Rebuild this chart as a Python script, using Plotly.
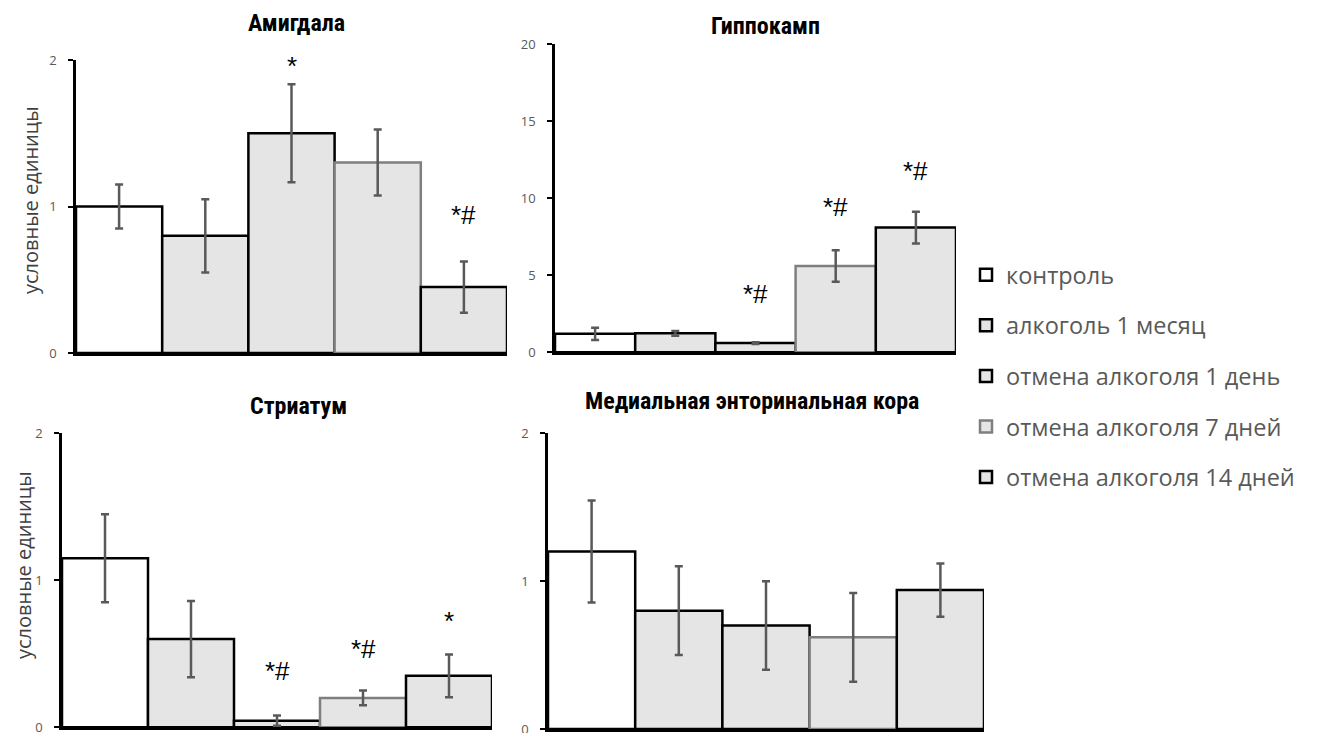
import plotly.graph_objects as go

# The page body adds an 8px offset; the figure is sized so that figure + offset = window.
OFF = 8
W, H = 1317 - OFF, 733 - OFF


def px(x):
    return (x - OFF) / W


def py(y):
    return 1 - (y - OFF) / H


series = ["контроль", "алкоголь 1 месяц", "отмена алкоголя 1 день",
          "отмена алкоголя 7 дней", "отмена алкоголя 14 дней"]
fills = ["#ffffff", "#e5e5e5", "#e5e5e5", "#e5e5e5", "#e5e5e5"]
outlines = ["#000000", "#000000", "#000000", "#7f7f7f", "#000000"]

titles = ["Амигдала", "Гиппокамп", "Стриатум", "Медиальная энторинальная кора"]

amyg_vals = [1.00, 0.80, 1.50, 1.30, 0.45]
amyg_err = [0.15, 0.25, 0.335, 0.225, 0.175]
amyg_marks = ["", "", "*", "", "*#"]
amyg_mark_y = [0, 0, 1.96, 0, 0.94]

hipp_vals = [1.20, 1.23, 0.60, 5.60, 8.10]
hipp_err = [0.40, 0.15, 0.06, 1.02, 1.03]
hipp_marks = ["", "", "*#", "*#", "*#"]
hipp_mark_y = [0, 0, 3.8, 9.45, 11.8]

stri_vals = [1.15, 0.60, 0.045, 0.20, 0.35]
stri_err = [0.30, 0.26, 0.035, 0.05, 0.145]
stri_marks = ["", "", "*#", "*#", "*"]
stri_mark_y = [0, 0, 0.38, 0.53, 0.72]

mec_vals = [1.20, 0.80, 0.70, 0.62, 0.94]
mec_err = [0.345, 0.30, 0.30, 0.30, 0.18]
mec_marks = ["", "", "", "", ""]
mec_mark_y = [0, 0, 0, 0, 0]

y_ranges = [[0, 2], [0, 20], [0, 2], [0, 2]]
y_dticks = [1, 5, 1, 1]

panels = [
    (amyg_vals, amyg_err, amyg_marks, amyg_mark_y),
    (hipp_vals, hipp_err, hipp_marks, hipp_mark_y),
    (stri_vals, stri_err, stri_marks, stri_mark_y),
    (mec_vals, mec_err, mec_marks, mec_mark_y),
]

# screen-pixel boxes of the plot areas: (x0, x1, ybottom, ytop)
boxes = [(76, 507, 353, 60), (555, 956, 352.3, 44.3),
         (62, 492, 727.3, 433.3), (548, 984, 729, 433.3)]
title_pos = [(296, 23), (766, 26), (298, 406), (752, 401)]

fig = go.Figure()
layout = {}
annotations = []

for p, (vals, errs, marks, mys) in enumerate(panels):
    ax = "" if p == 0 else str(p + 1)
    xref, yref = "x" + ax, "y" + ax
    for i, name in enumerate(series):
        fig.add_trace(go.Bar(
            x=[i], y=[vals[i]], width=1, name=name,
            legendgroup=name, showlegend=(p == 0),
            marker=dict(color=fills[i], line=dict(color=outlines[i], width=2.5)),
            error_y=dict(type="data", array=[errs[i]], color="#595959",
                         thickness=2.5, width=4),
            xaxis=xref, yaxis=yref,
        ))
        if marks[i]:
            annotations.append(dict(
                x=i, y=mys[i], xref=xref, yref=yref, text=marks[i],
                showarrow=False, yanchor="middle",
                font=dict(family="Liberation Sans, Arial", size=26, color="#000000")))
    x0, x1, yb, yt = boxes[p]
    layout["xaxis" + ax] = dict(
        domain=[px(x0), px(x1)], range=[-0.5, 4.5], anchor=yref,
        showline=True, linecolor="#000000", linewidth=2.5,
        showticklabels=False, ticks="", showgrid=False, zeroline=False,
        automargin=False, fixedrange=True)
    layout["yaxis" + ax] = dict(
        domain=[py(yb), py(yt)], range=y_ranges[p], anchor=xref,
        dtick=y_dticks[p], tick0=0,
        showline=True, linecolor="#000000", linewidth=2.5,
        ticks="outside", ticklen=5, tickwidth=2, tickcolor="#000000",
        ticklabelstandoff=9, ticklabeloverflow="allow",
        tickfont=dict(family="Open Sans, Noto Sans", size=13, color="#595959"),
        showgrid=False, zeroline=False, automargin=False, fixedrange=True)
    tx, ty = title_pos[p]
    annotations.append(dict(
        x=px(tx), y=py(ty), xref="paper", yref="paper", text="<b>" + titles[p] + "</b>",
        showarrow=False, xanchor="center", yanchor="middle",
        font=dict(family="Roboto Condensed, Liberation Sans Narrow, Roboto", size=24,
                  color="#000000")))

for (lx, ly) in [(31, 200), (23, 565)]:
    annotations.append(dict(
        x=px(lx), y=py(ly), xref="paper", yref="paper", text="условные единицы",
        showarrow=False, textangle=-90, xanchor="center", yanchor="middle",
        font=dict(family="Open Sans, Noto Sans", size=20, color="#404040")))

fig.update_layout(
    template="none",
    width=W, height=H,
    margin=dict(l=0, r=0, t=0, b=0, autoexpand=False),
    paper_bgcolor="#ffffff", plot_bgcolor="#ffffff",
    barmode="overlay",
    showlegend=True,
    legend=dict(x=px(966), y=py(253), xanchor="left", yanchor="top",
                traceorder="grouped", tracegroupgap=17,
                font=dict(family="Open Sans, Noto Sans", size=23.5, color="#595959"),
                bgcolor="rgba(0,0,0,0)"),
    annotations=annotations,
    **layout,
)

fig.write_html("out.html")
